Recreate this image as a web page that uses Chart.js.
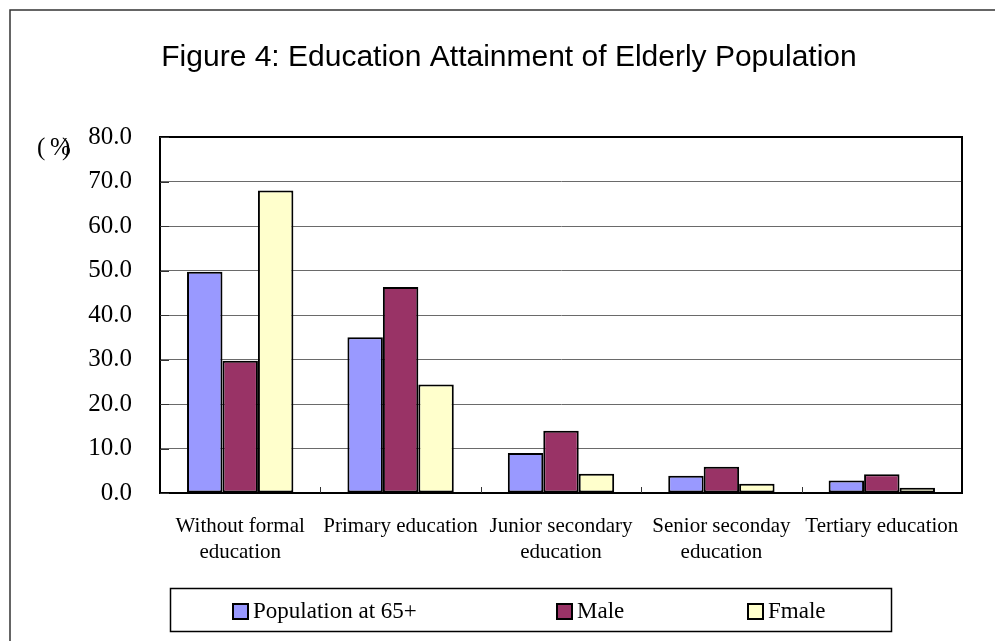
<!DOCTYPE html>
<html><head><meta charset="utf-8">
<script src="https://cdn.jsdelivr.net/npm/chart.js@4/dist/chart.umd.min.js"></script>
<style>html,body{margin:0;padding:0;background:#fff}canvas{display:block}</style>
</head><body>
<canvas id="c" width="995" height="641"></canvas>
<script>
const chartTitle = 'Figure 4: Education Attainment of Elderly Population';
const categories = [['Without formal','education'],'Primary education',['Junior secondary','education'],['Senior seconday','education'],'Tertiary education'];
const population65 = [49.7, 35.0, 9.0, 3.9, 2.8];
const male = [29.7, 46.3, 14.0, 5.9, 4.2];
const female = [68.0, 24.4, 4.3, 2.1, 1.2];
const seriesNames = ['Population at 65+', 'Male', 'Fmale'];
const seriesColors = ['#9999FF', '#993366', '#FFFFCC'];
const yTickLabels = ['0.0','10.0','20.0','30.0','40.0','50.0','60.0','70.0','80.0'];

const SERIF = '"Liberation Serif", "Times New Roman", serif';
const SANS = '"Liberation Sans", Arial, sans-serif';

const decor = {
  id: 'decor',
  beforeDraw(chart) {
    const ctx = chart.ctx;
    ctx.save();
    ctx.fillStyle = '#fff';
    ctx.fillRect(0, 0, chart.width, chart.height);
    ctx.restore();
  },
  afterDatasetsDraw(chart) {
    const ctx = chart.ctx, a = chart.chartArea, xs = chart.scales.x, ys = chart.scales.y;
    ctx.save();
    ctx.strokeStyle = '#000';
    ctx.lineWidth = 2;
    ctx.strokeRect(a.left, a.top, a.right - a.left, a.bottom - a.top);
    ctx.lineWidth = 1;
    ctx.strokeStyle = '#333';
    const n = chart.data.labels.length;
    const w = (a.right - a.left) / n;
    for (let i = 1; i < n; i++) {
      const x = Math.round(xs.getPixelForValue(i) - w / 2) + 0.5;
      ctx.beginPath(); ctx.moveTo(x, a.bottom); ctx.lineTo(x, a.bottom - 6); ctx.stroke();
    }
    ys.ticks.forEach((t, i) => {
      const y = Math.round(ys.getPixelForTick(i)) + 0.5;
      ctx.beginPath(); ctx.moveTo(a.left, y); ctx.lineTo(a.left + 9, y); ctx.stroke();
    });
    ctx.restore();
  },
  afterDraw(chart) {
    const ctx = chart.ctx;
    ctx.save();
    ctx.strokeStyle = '#333';
    ctx.lineWidth = 1.5;
    ctx.beginPath(); ctx.moveTo(10, 641); ctx.lineTo(10, 10); ctx.lineTo(995, 10); ctx.stroke();
    ctx.fillStyle = '#000';
    ctx.font = '30px ' + SANS;
    ctx.textAlign = 'center';
    ctx.textBaseline = 'alphabetic';
    ctx.fillText(chartTitle, 509, 66);
    ctx.font = '25px ' + SERIF;
    ctx.textAlign = 'left';
    ctx.textBaseline = 'middle';
    ctx.fillText('(', 37, 148);
    ctx.fillText('%', 50, 148);
    ctx.fillText(')', 62, 148);
    ctx.lineWidth = 1.5;
    ctx.strokeStyle = '#000';
    ctx.strokeRect(170.5, 588.5, 721, 43);
    const mx = [233, 557, 748];
    ctx.font = '23px ' + SERIF;
    chart.data.datasets.forEach((ds, i) => {
      ctx.fillStyle = ds.backgroundColor;
      ctx.fillRect(mx[i], 604, 15, 15);
      ctx.lineWidth = 2;
      ctx.strokeRect(mx[i], 604, 15, 15);
      ctx.fillStyle = '#000';
      ctx.fillText(ds.label, mx[i] + 20, 612);
    });
    ctx.restore();
  }
};

const mk = (i, data) => ({
  label: seriesNames[i], data,
  backgroundColor: seriesColors[i], borderColor: '#000', borderWidth: 2, borderSkipped: false,
  categoryPercentage: 0.663, barPercentage: 1.0
});

new Chart(document.getElementById('c'), {
  type: 'bar',
  data: { labels: categories, datasets: [mk(0, population65), mk(1, male), mk(2, female)] },
  options: {
    responsive: false, animation: false, devicePixelRatio: 1,
    layout: { padding: { left: 0, right: 33, top: 137, bottom: 0 } },
    plugins: { legend: { display: false }, title: { display: false }, tooltip: { enabled: false } },
    scales: {
      x: {
        afterFit(s) { s.height = 148; },
        grid: { display: false, drawTicks: false },
        border: { display: true, color: '#000', width: 2 },
        ticks: { font: { family: SERIF, size: 21, lineHeight: 1.25 }, color: '#000', padding: 20, maxRotation: 0, autoSkip: false }
      },
      y: {
        min: 0, max: 80,
        afterFit(s) { s.width = 160; },
        grid: { color: '#6a6a6a', lineWidth: 1, drawTicks: false },
        border: { display: true, color: '#000', width: 2 },
        ticks: { stepSize: 10, font: { family: SERIF, size: 25 }, color: '#000', padding: 28,
          callback: (v, i) => yTickLabels[i] }
      }
    }
  },
  plugins: [decor]
});
</script>
</body></html>
